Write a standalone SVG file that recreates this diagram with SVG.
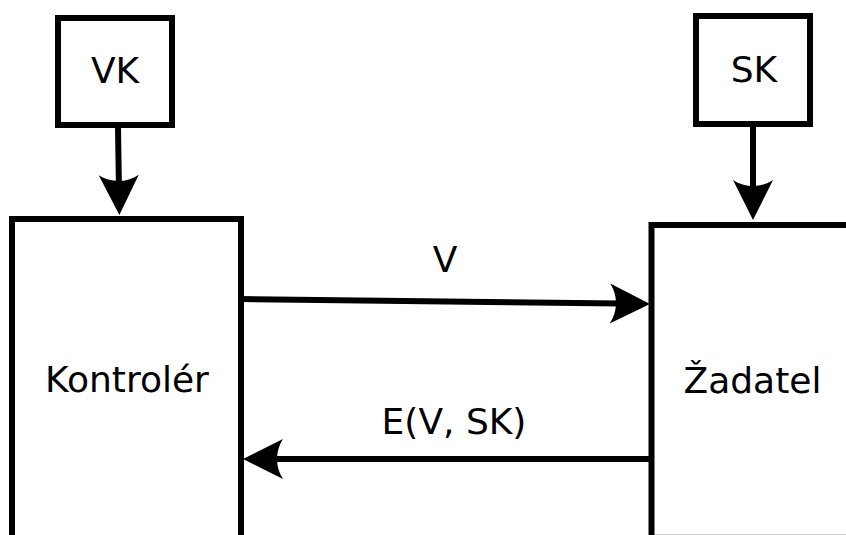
<svg xmlns="http://www.w3.org/2000/svg" width="846" height="535" viewBox="0 0 846 535">
  <style>
    .box { fill: #ffffff; stroke: #000000; stroke-width: 6; }
    .lbl { font-family: "DejaVu Sans", "Liberation Sans", sans-serif; font-size: 36px; fill: #000000; text-anchor: middle; }
    .conn { fill: none; stroke: #000000; stroke-width: 6; marker-end: url(#arrow); }
  </style>
  <defs>
    <marker id="arrow" markerUnits="userSpaceOnUse" viewBox="-42 -22 44 44" markerWidth="44" markerHeight="44" refX="-30" refY="0" orient="auto">
      <path d="M0,0 L-40,-20 C-32,-8 -32,8 -40,20 Z" fill="#000000"/>
    </marker>
  </defs>
  <rect width="846" height="535" fill="#ffffff"/>
  <g id="node-vk">
    <rect class="box" x="58" y="18" width="114" height="107"/>
    <text class="lbl" x="115" y="83">VK</text>
  </g>
  <g id="node-sk">
    <rect class="box" x="696" y="16" width="114" height="108"/>
    <text class="lbl" x="754" y="82">SK</text>
  </g>
  <g id="node-kontroler">
    <rect class="box" x="12" y="219" width="229" height="330"/>
    <text class="lbl" x="127" y="392">Kontrolér</text>
  </g>
  <g id="node-zadatel">
    <rect class="box" x="651.5" y="225" width="230" height="312.8"/>
    <text class="lbl" x="752.5" y="393">Žadatel</text>
  </g>
  <g id="connectors">
    <path class="conn" d="M118,128 L118.9,185"/>
    <path class="conn" d="M753,127 L753,190"/>
    <path class="conn" d="M241,299 L620,303.6"/>
    <path class="conn" d="M651,459 L273,459"/>
    <text class="lbl" x="445" y="272">V</text>
    <text class="lbl" x="454" y="434">E(V, SK)</text>
  </g>
</svg>
